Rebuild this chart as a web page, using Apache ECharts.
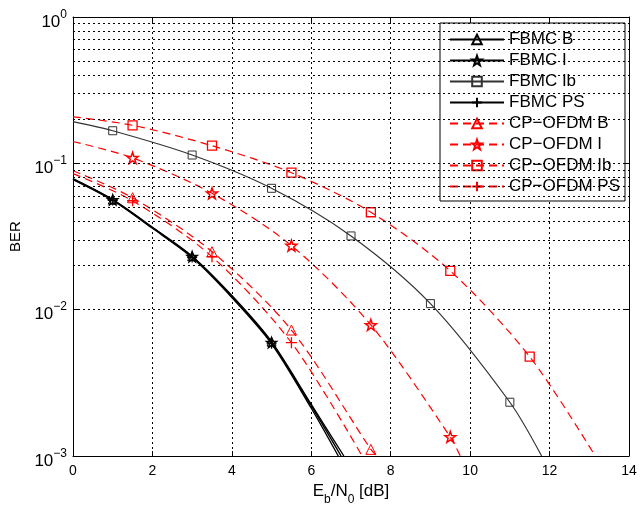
<!DOCTYPE html>
<html>
<head>
<meta charset="utf-8">
<script src="https://cdn.jsdelivr.net/npm/echarts@6/dist/echarts.min.js"></script>
<style>
  html, body { margin: 0; padding: 0; background: #fff; }
  #chart { width: 644px; height: 512px; }
</style>
</head>
<body>
<div id="chart"></div>
<script>
// Eb/N0 axis (dB)
const ebn0Min = 0;
const ebn0Max = 14;
const ebn0Step = 2;

// BER axis (log scale) and its dotted grid levels
const berMin = 0.001;
const berMax = 1;
const berGridLevels = [
  0.002, 0.003, 0.004, 0.005, 0.006, 0.007, 0.008, 0.009,
  0.01, 0.02, 0.03, 0.04, 0.05, 0.06, 0.07, 0.08, 0.09,
  0.1, 0.2, 0.3, 0.4, 0.5, 0.6, 0.7, 0.8, 0.9
];

const seriesNames = [
  'FBMC B', 'FBMC I', 'FBMC Ib', 'FBMC PS',
  'CP\u2212OFDM B', 'CP\u2212OFDM I', 'CP\u2212OFDM Ib', 'CP\u2212OFDM PS'
];

// FBMC curves
const fbmcBX  = [0, 1, 2, 3, 4, 5, 6, 6.82];
const fbmcBY  = [0.0785, 0.0565, 0.0366, 0.0232, 0.0125, 0.00605, 0.00225, 0.001];
const fbmcIX  = [0, 1, 2, 3, 4, 5, 6, 6.75];
const fbmcIY  = [0.078, 0.0562, 0.0363, 0.023, 0.0123, 0.00595, 0.0022, 0.001];
const fbmcPSX = [0, 1, 2, 3, 4, 5, 6, 6.68];
const fbmcPSY = [0.0775, 0.0558, 0.036, 0.0227, 0.0121, 0.00585, 0.00212, 0.001];
const fbmcIbX = [0, 1, 3, 5, 7, 9, 11, 11.8];
const fbmcIbY = [0.1925, 0.167, 0.114, 0.0675, 0.0319, 0.011, 0.00233, 0.001];
const fbmcMarkerX = [1, 3, 5, 7, 9, 11];

// CP-OFDM curves
const ofdmBX  = [0, 1.5, 3.5, 5.5, 7.5, 7.65];
const ofdmBY  = [0.089, 0.0582, 0.0249, 0.00726, 0.00111, 0.001];
const ofdmIX  = [0, 1.5, 3.5, 5.5, 7.5, 9.5, 9.75];
const ofdmIY  = [0.141, 0.109, 0.0624, 0.0274, 0.00786, 0.00135, 0.001];
const ofdmIbX = [0, 1.5, 3.5, 5.5, 7.5, 9.5, 11.5, 13.15];
const ofdmIbY = [0.208, 0.182, 0.132, 0.0863, 0.0463, 0.0184, 0.00477, 0.001];
const ofdmPSX = [0, 1.5, 3.5, 5.5, 7.28];
const ofdmPSY = [0.085, 0.0555, 0.023, 0.00595, 0.001];
const ofdmMarkerX = [1.5, 3.5, 5.5, 7.5, 9.5, 11.5];

const FONT = "'Liberation Sans', Arial, Helvetica, sans-serif";
const RED = '#ff0000';
const BLACK = '#000000';

const STAR = 'path://M0,-10 L2.35,-3.24 L9.51,-3.09 L3.8,1.24 L5.88,8.09 L0,4 L-5.88,8.09 L-3.8,1.24 L-9.51,-3.09 L-2.35,-3.24 Z';
const PLUS = 'path://M-5,0 L5,0 M0,-5 L0,5';

function points(xs, ys, markers) {
  return xs.map((x, i) => {
    const item = { value: [x, ys[i]] };
    if (markers.indexOf(x) < 0) item.symbol = 'none';
    return item;
  });
}

function curve(name, xs, ys, markers, opts) {
  return {
    name: name,
    type: 'line',
    data: points(xs, ys, markers),
    smooth: 0.3,
    symbol: opts.symbol,
    symbolSize: opts.size,
    showAllSymbol: true,
    clip: true,
    lineStyle: { color: opts.color, width: opts.width, type: opts.dash || 'solid' },
    itemStyle: { color: 'rgba(0,0,0,0)', borderColor: opts.color, borderWidth: opts.bw || 1 },
    emphasis: { disabled: true },
    animation: false,
    z: opts.z || 3
  };
}

const chart = echarts.init(document.getElementById('chart'), null, { renderer: 'canvas' });

const gridDots = [2, 3];

const option = {
  backgroundColor: '#fff',
  textStyle: { fontFamily: FONT },
  grid: { left: 73, right: 15, top: 17, bottom: 56 },
  legend: {
    data: seriesNames,
    orient: 'vertical',
    left: 440,
    top: 23,
    padding: [8, 5, 6, 9],
    itemWidth: 54,
    itemHeight: 12,
    itemGap: 4,
    backgroundColor: '#fff',
    borderColor: BLACK,
    borderWidth: 1,
    borderRadius: 0,
    selectedMode: false,
    textStyle: { fontFamily: FONT, fontSize: 17, color: '#000' }
  },
  xAxis: [
    {
      type: 'value',
      min: ebn0Min, max: ebn0Max, interval: ebn0Step,
      name: '{m|E}{s|b}{m|/N}{s|0}{m| [dB]}',
      nameLocation: 'middle',
      nameGap: 23,
      nameTextStyle: {
        rich: {
          m: { fontSize: 17, lineHeight: 17, verticalAlign: 'top', fontFamily: FONT, color: '#000' },
          s: { fontSize: 12, lineHeight: 12, padding: [11, 0, 0, 0], verticalAlign: 'top', fontFamily: FONT, color: '#000' }
        }
      },
      axisLine: { show: true, onZero: false, lineStyle: { color: BLACK, width: 1 } },
      axisTick: { show: true, inside: true, length: 5, lineStyle: { color: BLACK } },
      axisLabel: { fontSize: 14, color: '#000', margin: 8, fontFamily: FONT },
      splitLine: { show: true, lineStyle: { color: BLACK, width: 1, type: gridDots } }
    },
    {
      type: 'value', position: 'top',
      min: ebn0Min, max: ebn0Max, interval: ebn0Step,
      axisLine: { show: true, onZero: false, lineStyle: { color: BLACK, width: 1 } },
      axisTick: { show: true, inside: true, length: 5, lineStyle: { color: BLACK } },
      axisLabel: { show: false },
      splitLine: { show: false }
    }
  ],
  yAxis: [
    {
      type: 'log', logBase: 10, min: berMin, max: berMax,
      name: 'BER',
      nameLocation: 'middle',
      nameGap: 44,
      nameRotate: 90,
      nameTextStyle: { fontSize: 15, color: '#000', fontFamily: FONT },
      axisLine: { show: true, onZero: false, lineStyle: { color: BLACK, width: 1 } },
      axisTick: { show: true, inside: true, length: 5, lineStyle: { color: BLACK } },
      axisLabel: {
        margin: 6,
        formatter: function (v) {
          const e = Math.round(Math.log10(v));
          const exp = e < 0 ? '\u2212' + (-e) : String(e);
          return '{b|10}{p|' + exp + '}';
        },
        rich: {
          b: { fontSize: 17, lineHeight: 17, padding: [5, 0, 0, 0], verticalAlign: 'top', fontFamily: FONT, color: '#000' },
          p: { fontSize: 12, lineHeight: 12, verticalAlign: 'top', fontFamily: FONT, color: '#000' }
        }
      },
      splitLine: { show: false }
    },
    {
      type: 'log', logBase: 10, min: berMin, max: berMax, position: 'right',
      axisLine: { show: true, onZero: false, lineStyle: { color: BLACK, width: 1 } },
      axisTick: { show: true, inside: true, length: 5, lineStyle: { color: BLACK } },
      axisLabel: { show: false },
      splitLine: { show: false }
    }
  ],
  series: [
    {
      name: 'grid-levels',
      type: 'line',
      data: [],
      silent: true,
      animation: false,
      z: 1,
      markLine: {
        silent: true,
        animation: false,
        symbol: ['none', 'none'],
        label: { show: false },
        lineStyle: { color: BLACK, width: 1, type: gridDots },
        emphasis: { disabled: true },
        data: berGridLevels.map(v => ({ yAxis: v }))
      }
    },
    curve(seriesNames[0], fbmcBX, fbmcBY, fbmcMarkerX, { symbol: 'triangle', size: 9, color: BLACK, width: 1.4 }),
    curve(seriesNames[1], fbmcIX, fbmcIY, fbmcMarkerX, { symbol: STAR, size: 10, color: BLACK, width: 1.4, bw: 1.5 }),
    curve(seriesNames[2], fbmcIbX, fbmcIbY, fbmcMarkerX, { symbol: 'rect', size: 8, color: '#333', width: 1.2 }),
    curve(seriesNames[3], fbmcPSX, fbmcPSY, fbmcMarkerX, { symbol: PLUS, size: 10, color: BLACK, width: 1.4, bw: 1.2 }),
    curve(seriesNames[4], ofdmBX, ofdmBY, ofdmMarkerX, { symbol: 'triangle', size: 10, color: RED, width: 1.2, dash: [8, 5] }),
    curve(seriesNames[5], ofdmIX, ofdmIY, ofdmMarkerX, { symbol: STAR, size: 11, color: RED, width: 1.2, dash: [8, 5], bw: 1.5 }),
    curve(seriesNames[6], ofdmIbX, ofdmIbY, ofdmMarkerX, { symbol: 'rect', size: 9, color: RED, width: 1.2, dash: [8, 5], bw: 1.3 }),
    curve(seriesNames[7], ofdmPSX, ofdmPSY, ofdmMarkerX, { symbol: PLUS, size: 11, color: RED, width: 1.2, dash: [8, 5], bw: 1.3 })
  ]
};

chart.setOption(option);
</script>
</body>
</html>
